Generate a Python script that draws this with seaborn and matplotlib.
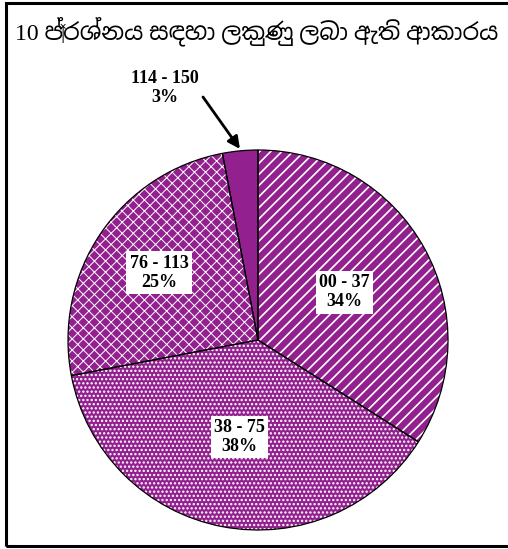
import matplotlib
matplotlib.use("Agg")
import matplotlib.pyplot as plt
import numpy as np
import seaborn as sns
from matplotlib import font_manager
from matplotlib.patches import Rectangle
from matplotlib.ft2font import FT2Font

# Score bands for question 10 and share of candidates in each
bands = ["00 - 37", "38 - 75", "76 - 113", "114 - 150"]
shares = [34, 38, 25, 3]
hatches = ["///", "....", "xxx", ""]
hatch_lw = [1.2, 1.1, 0.7, 0.0]
title = "10 ප්‍රශ්නය සඳහා ලකුණු ලබා ඇති ආකාරය"

purple = "#93208F"


def sinhala_family():
    """Return an installed family that covers Sinhala script, if any."""
    cands = sorted(font_manager.fontManager.ttflist,
                   key=lambda f: 0 if "sinhala" in f.name.lower() else 1)
    for f in cands:
        try:
            if 0x0DC3 in FT2Font(f.fname).get_charmap():
                return f.name
        except Exception:
            continue
    return None


sns.set_theme(style="white")
plt.rcParams["text.color"] = "black"
serif = ["Liberation Serif", "DejaVu Serif"]
sin = sinhala_family()
title_family = ["Liberation Serif"] + ([sin] if sin else []) + ["DejaVu Sans"]

W, H = 508, 549
fig = plt.figure(figsize=(W / 100, H / 100), dpi=100)
ax = fig.add_axes([0, 0, 1, 1])

# pie centre and radius in pixels
cx, cy, r = 258, 340, 190

# filled, hatched wedges (hatch lines are drawn in the edge colour -> white)
wedges = []
for i in range(len(shares)):
    plt.rcParams["hatch.linewidth"] = max(hatch_lw[i], 0.1)
    ws, _ = ax.pie(shares, startangle=90, counterclock=False, radius=1,
                   colors=[purple] * len(shares),
                   wedgeprops=dict(edgecolor="white", linewidth=0))
    for j, w in enumerate(ws):
        if j != i:
            w.remove()
    w = ws[i]
    if hatches[i]:
        w.set_hatch(hatches[i])
        if hasattr(w, "set_hatch_linewidth"):
            w.set_hatch_linewidth(hatch_lw[i])
    else:
        w.set_edgecolor(purple)
    wedges.append(w)

# black outlines on top
ax.pie(shares, startangle=90, counterclock=False, radius=1,
       colors=["none"] * len(shares),
       wedgeprops=dict(edgecolor="black", linewidth=0.9, fill=False))

label_r = [0.52, 0.52, 0.63]
for w, band, s, lr in zip(wedges[:3], bands[:3], shares[:3], label_r):
    mid = np.deg2rad((w.theta1 + w.theta2) / 2)
    ax.text(lr * np.cos(mid), lr * np.sin(mid), f"{band}\n{s}%",
            ha="center", va="center", family=serif, fontsize=13,
            fontweight="bold", linespacing=1.15, color="black",
            bbox=dict(facecolor="white", edgecolor="none", pad=2.5))

# small slice: label outside with an arrow
w = wedges[3]
mid = np.deg2rad((w.theta1 + w.theta2) / 2)
tip = (1.01 * np.cos(mid), 1.01 * np.sin(mid))
ax.text((165 - cx) / r, (cy - 88) / r, f"{bands[3]}\n{shares[3]}%",
        ha="center", va="center", family=serif, fontsize=13,
        fontweight="bold", linespacing=1.15, color="black")
ax.annotate("", xy=tip, xytext=((203 - cx) / r, (cy - 97) / r),
            arrowprops=dict(arrowstyle="-|>", color="black", lw=2,
                            mutation_scale=18, shrinkA=0, shrinkB=0))

ax.set_xlim(-cx / r, (W - cx) / r)
ax.set_ylim(-(H - cy) / r, cy / r)
ax.set_aspect("auto")
ax.axis("off")

fig.text(15 / W, 1 - 31 / H, title, ha="left", va="center",
         family=title_family, fontsize=17, color="black")

# outer frame (open on the right)
fig.add_artist(Rectangle((6 / W, 3 / H), 1.2, 1 - 6 / H,
                         transform=fig.transFigure, fill=False,
                         edgecolor="black", linewidth=2.2, clip_on=False))

fig.savefig("out.png", dpi=100, facecolor="white")
